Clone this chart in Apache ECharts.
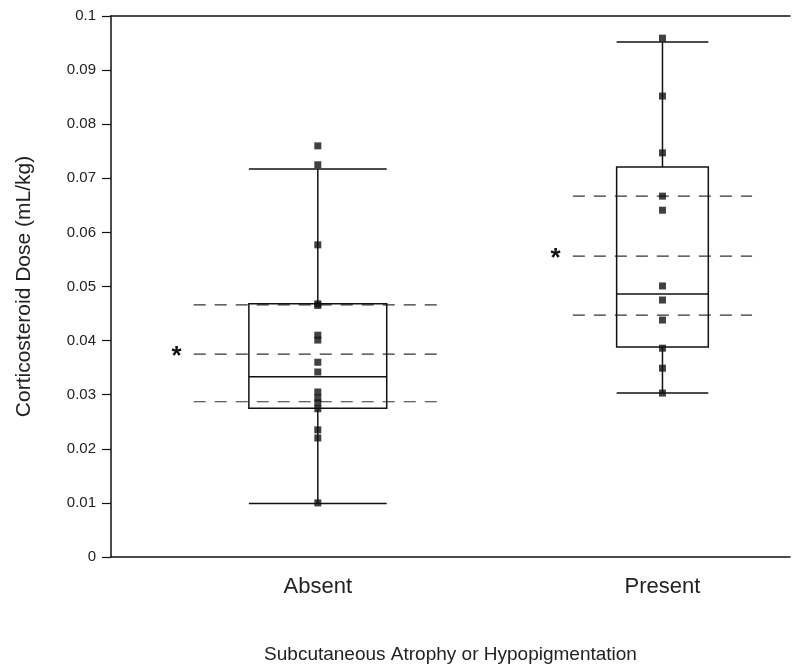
<!DOCTYPE html>
<html>
<head>
<meta charset="utf-8">
<script src="https://cdn.jsdelivr.net/npm/echarts@6/dist/echarts.min.js"></script>
<style>
  html, body { margin: 0; padding: 0; background: #fff; }
  #chart { width: 792px; height: 671px; }
</style>
</head>
<body>
<div id="chart"></div>
<script>
// ---- data ----
const categories = ['Absent', 'Present'];
const categoryPos = [1, 2];
// box statistics: [min, Q1, median, Q3, max]
const absentBox = [0.0099, 0.0275, 0.0333, 0.0468, 0.0717];
const presentBox = [0.0303, 0.0388, 0.0486, 0.0721, 0.0952];
// individual observations
const absentPoints = [0.0760, 0.0725, 0.0577, 0.0468, 0.0465, 0.0410, 0.0401, 0.0360, 0.0342,
                      0.0305, 0.0294, 0.0285, 0.0274, 0.0235, 0.0220, 0.0100];
const presentPoints = [0.0959, 0.0852, 0.0747, 0.0667, 0.0641, 0.0501, 0.0475, 0.0438,
                       0.0386, 0.0349, 0.0303];
// dashed reference lines: [upper, mean (*), lower]
const absentRefLines = [0.0466, 0.0375, 0.0287];
const presentRefLines = [0.0667, 0.0556, 0.0447];
const asteriskLabel = '*';

// ---- style / layout constants ----
const FONT = "'Liberation Sans', Arial, sans-serif";
const INK = '#111';
const boxHalfWidth = [0.2, 0.133];
const refHalfWidth = [0.36, 0.26];
const asteriskOffset = [-0.41, -0.31];

const boxData = [[categoryPos[0]].concat(absentBox), [categoryPos[1]].concat(presentBox)];
const refData = [[categoryPos[0]].concat(absentRefLines), [categoryPos[1]].concat(presentRefLines)];
const pointData = absentPoints.map(v => [categoryPos[0], v])
  .concat(presentPoints.map(v => [categoryPos[1], v]));

const chart = echarts.init(document.getElementById('chart'), null, { renderer: 'canvas' });

function renderBox(params, api) {
  const i = params.dataIndex;
  const x = api.value(0);
  const hw = boxHalfWidth[i];
  const mn = api.value(1), q1 = api.value(2), md = api.value(3), q3 = api.value(4), mx = api.value(5);
  const c = (xx, yy) => api.coord([xx, yy]);
  const st = { stroke: INK, lineWidth: 1.5, fill: null };
  const line = (a, b) => ({ type: 'line', shape: { x1: a[0], y1: a[1], x2: b[0], y2: b[1] }, style: st });
  const tl = c(x - hw, q3), br = c(x + hw, q1);
  return {
    type: 'group',
    children: [
      line(c(x, mn), c(x, q1)),
      line(c(x, q3), c(x, mx)),
      line(c(x - hw, mn), c(x + hw, mn)),
      line(c(x - hw, mx), c(x + hw, mx)),
      { type: 'rect', shape: { x: tl[0], y: tl[1], width: br[0] - tl[0], height: br[1] - tl[1] }, style: st },
      line(c(x - hw, md), c(x + hw, md))
    ]
  };
}

function renderRef(params, api) {
  const i = params.dataIndex;
  const x = api.value(0);
  const hw = refHalfWidth[i];
  const children = [];
  for (let k = 1; k <= 3; k++) {
    const v = api.value(k);
    const a = api.coord([x - hw, v]), b = api.coord([x + hw, v]);
    children.push({ type: 'line', shape: { x1: a[0], y1: a[1], x2: b[0], y2: b[1] },
      style: { stroke: '#333', lineWidth: 1.2, lineDash: [12, 9] } });
  }
  const m = api.coord([x + asteriskOffset[i], api.value(2)]);
  children.push({ type: 'text', x: m[0], y: m[1] + 3,
    style: { text: asteriskLabel, fill: INK, font: 'bold 26px ' + FONT, align: 'center', verticalAlign: 'middle' } });
  return { type: 'group', children };
}

const option = {
  backgroundColor: '#fff',
  animation: false,
  grid: { left: 111, right: 2, top: 16, bottom: 114 },
  xAxis: [{
    type: 'value', min: 0.4, max: 2.37, position: 'bottom',
    name: 'Subcutaneous Atrophy or Hypopigmentation',
    nameLocation: 'middle', nameGap: 88,
    nameTextStyle: { fontFamily: FONT, fontSize: 19, color: '#222' },
    axisLine: { show: true, onZero: false, lineStyle: { color: INK, width: 1.5 } },
    axisTick: { show: false },
    splitLine: { show: false },
    axisLabel: {
      customValues: categoryPos,
      formatter: v => categories[categoryPos.indexOf(Math.round(v))] || '',
      fontFamily: FONT, fontSize: 22, color: '#222', margin: 19
    }
  }, {
    type: 'value', min: 0.4, max: 2.37, position: 'top',
    axisLine: { show: true, onZero: false, lineStyle: { color: INK, width: 1.5 } },
    axisTick: { show: false }, axisLabel: { show: false }, splitLine: { show: false }
  }],
  yAxis: {
    type: 'value', min: 0, max: 0.1, interval: 0.01,
    name: 'Corticosteroid Dose (mL/kg)', nameLocation: 'middle', nameGap: 76,
    nameTextStyle: { fontFamily: FONT, fontSize: 21, color: '#222' },
    axisLine: { show: true, lineStyle: { color: INK, width: 1.5 } },
    axisTick: { show: true, inside: false, length: 9, lineStyle: { color: INK, width: 1.2 } },
    splitLine: { show: false },
    axisLabel: { formatter: v => String(+v.toFixed(2)), fontFamily: FONT, fontSize: 15, color: '#222', margin: 15 }
  },
  series: [
    { type: 'custom', name: 'ref', data: refData, renderItem: renderRef, encode: { x: 0, y: [1, 2, 3] }, z: 1 },
    { type: 'custom', name: 'box', data: boxData, renderItem: renderBox, encode: { x: 0, y: [1, 2, 3, 4, 5] }, z: 2 },
    { type: 'scatter', name: 'points', data: pointData, symbol: 'rect', symbolSize: 7,
      itemStyle: { color: INK }, z: 3 }
  ]
};
chart.setOption(option);
</script>
</body>
</html>
